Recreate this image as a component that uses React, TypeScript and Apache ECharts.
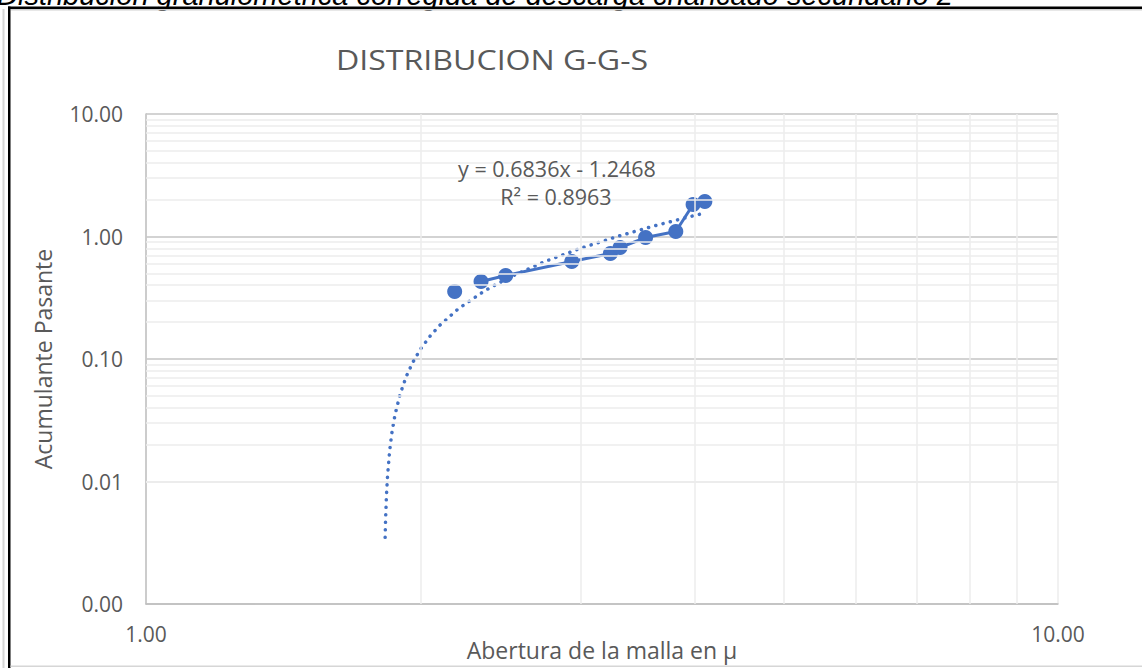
import React, { useEffect, useRef } from "react";
import * as echarts from "echarts";

// Measured points (abertura de la malla, acumulante pasante)
const ABERTURA = [2.18, 2.33, 2.48, 2.93, 3.23, 3.31, 3.53, 3.81, 3.98, 4.1];
const PASANTE = [0.356, 0.429, 0.48, 0.625, 0.727, 0.813, 0.98, 1.098, 1.825, 1.93];

// Trendline points
const TREND_X = [1.829, 1.831, 1.835, 1.84, 1.85, 1.86, 1.875, 1.9, 1.93, 1.96, 2.0, 2.05, 2.1, 2.2, 2.35, 2.5, 2.75, 3.0, 3.3, 3.6, 3.9, 4.1];
const TREND_Y = [0.0035, 0.00487, 0.00761, 0.01102, 0.01786, 0.0247, 0.03495, 0.05204, 0.07255, 0.09306, 0.1204, 0.15458, 0.18876, 0.25712, 0.35966, 0.4622, 0.6331, 0.804, 1.00908, 1.21416, 1.41924, 1.55596];

// Minor grid positions
const MINOR_X = [2, 3, 4, 5, 6, 7, 8, 9];
const MINOR_Y = [
  0.002, 0.003, 0.004, 0.005, 0.006, 0.007, 0.008, 0.009,
  0.02, 0.03, 0.04, 0.05, 0.06, 0.07, 0.08, 0.09,
  0.2, 0.3, 0.4, 0.5, 0.6, 0.7, 0.8, 0.9,
  2, 3, 4, 5, 6, 7, 8, 9,
];

const TITLE = "DISTRIBUCION G-G-S";
const CAPTION = "Distribución granulométrica corregida de descarga chancado secundario 2";
const EQUATION = "y = 0.6836x - 1.2468";
const R2 = "R² = 0.8963";
const X_NAME = "Abertura de la malla en µ";
const Y_NAME = "Acumulante Pasante";

const BLUE = "#4472C4";
const TEXT = "#595959";
const FONT = "Open Sans";

export default function App() {
  const ref = useRef<HTMLDivElement>(null);
  useEffect(() => {
    if (!ref.current) return;
    const chart = echarts.init(ref.current, undefined, { renderer: "svg" });
    const pts = ABERTURA.map((x, i) => [x, PASANTE[i]]);
    const trend = TREND_X.map((x, i) => [x, TREND_Y[i]]);
    chart.setOption({
      animation: false,
      backgroundColor: "#ffffff",
      grid: {
        left: 146,
        right: 84,
        top: 114,
        bottom: 64,
        containLabel: false,
        outerBoundsMode: "none",
      },
      xAxis: {
        type: "log",
        logBase: 10,
        min: 1,
        max: 10,
        name: X_NAME,
        nameLocation: "middle",
        nameGap: 34,
        nameMoveOverlap: false,
        nameTextStyle: { fontFamily: FONT, fontSize: 23, color: TEXT },
        axisLine: { show: true, lineStyle: { color: "#bfbfbf", width: 1.5 } },
        axisTick: { show: false },
        axisLabel: {
          fontFamily: FONT,
          fontSize: 21,
          color: TEXT,
          margin: 19,
          formatter: (v: number) => v.toFixed(2),
        },
        splitLine: { show: true, lineStyle: { color: "#ececec", width: 1.5 } },
      },
      yAxis: {
        type: "log",
        logBase: 10,
        min: 0.001,
        max: 10,
        name: Y_NAME,
        nameLocation: "middle",
        nameGap: 92,
        nameMoveOverlap: false,
        nameTextStyle: { fontFamily: FONT, fontSize: 23, color: TEXT },
        axisLine: { show: true, lineStyle: { color: "#bfbfbf", width: 1.5 } },
        axisTick: { show: false },
        axisLabel: {
          fontFamily: FONT,
          fontSize: 21,
          color: TEXT,
          margin: 23,
          formatter: (v: number) => v.toFixed(2),
        },
        splitLine: { show: true, lineStyle: { color: "#c4c4c4", width: 1.5 } },
      },
      graphic: [
        {
          type: "text",
          x: 492,
          y: 60,
          scaleX: 1.19,
          style: {
            text: TITLE,
            x: 0,
            y: 0,
            align: "center",
            verticalAlign: "middle",
            font: `27px '${FONT}'`,
            fill: TEXT,
          },
          z: 10,
        },
        {
          type: "text",
          style: {
            text: CAPTION,
            x: 953,
            y: 9,
            align: "right",
            verticalAlign: "bottom",
            font: "italic 29px 'Liberation Sans', Arial, sans-serif",
            fill: "#000000",
          },
          z: 10,
        },
        { type: "rect", shape: { x: 8, y: 6.5, width: 1140, height: 2.5 }, style: { fill: "#000000" }, z: 11 },
        { type: "rect", shape: { x: 10.5, y: 9, width: 1140, height: 1.5 }, style: { fill: "#cfcfcf" }, z: 11 },
        { type: "rect", shape: { x: 8, y: 6.5, width: 2.5, height: 670 }, style: { fill: "#000000" }, z: 11 },
        { type: "rect", shape: { x: 2.5, y: 9, width: 2, height: 670 }, style: { fill: "#d6d6d6" }, z: 11 },
        { type: "rect", shape: { x: 10.5, y: 665.5, width: 1140, height: 1.5 }, style: { fill: "#d6d6d6" }, z: 11 },
        {
          type: "text",
          style: {
            text: EQUATION,
            x: 557,
            y: 168,
            align: "center",
            verticalAlign: "middle",
            font: `21.5px '${FONT}'`,
            fill: TEXT,
          },
          z: 10,
        },
        {
          type: "text",
          style: {
            text: R2,
            x: 556,
            y: 196,
            align: "center",
            verticalAlign: "middle",
            font: `21.5px '${FONT}'`,
            fill: TEXT,
          },
          z: 10,
        },
      ],
      series: [
        {
          type: "line",
          name: "grid",
          data: [],
          silent: true,
          z: 0,
          markLine: {
            silent: true,
            symbol: ["none", "none"],
            label: { show: false },
            emphasis: { disabled: true },
            lineStyle: { color: "#ececec", width: 1.5, type: "solid" },
            data: [
              ...MINOR_X.map((v) => ({ xAxis: v })),
              ...MINOR_Y.map((v) => ({ yAxis: v })),
            ],
          },
        },
        {
          type: "line",
          name: "trend",
          data: trend,
          showSymbol: false,
          symbol: "none",
          z: 3,
          lineStyle: { color: BLUE, width: 3.5, type: [0.1, 7.4], cap: "round" },
        },
        {
          type: "scatter",
          name: "first",
          data: pts.slice(0, 1),
          symbol: "circle",
          symbolSize: 15,
          itemStyle: { color: BLUE, opacity: 1 },
          z: 4,
        },
        {
          type: "line",
          name: "data",
          data: pts.slice(1),
          symbol: "circle",
          symbolSize: 15,
          showAllSymbol: true,
          itemStyle: { color: BLUE, opacity: 1 },
          lineStyle: { color: BLUE, width: 3 },
          z: 4,
        },
      ],
    });
    return () => chart.dispose();
  }, []);
  return (
    <div
      ref={ref}
      style={{ position: "absolute", left: 0, top: 0, width: 1142, height: 668 }}
    />
  );
}
